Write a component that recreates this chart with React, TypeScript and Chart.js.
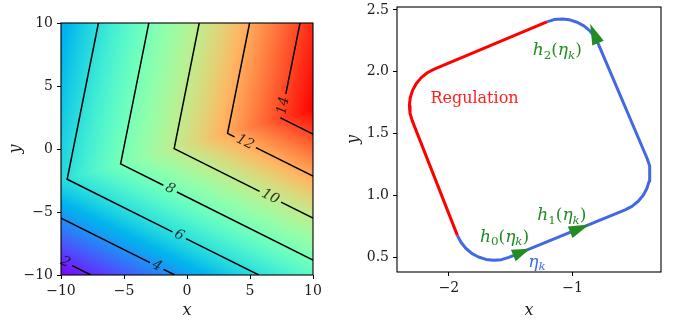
import React, { useEffect, useRef } from 'react';
import { Chart, registerables } from 'chart.js';

Chart.register(...registerables);

const SERIF = '"DejaVu Serif", "Liberation Serif", serif';
const TEXT_COLOR = '#1a1a1a';

// ---------------- Left panel: heat map with contours ----------------
const HEAT_X_LIMITS = [-10, 10];
const HEAT_Y_LIMITS = [-10, 10];
const HEAT_TICKS = [-10, -5, 0, 5, 10];
// the surface is the lower of two planes a*x + b*y + c
const SURFACE_LOWER_PLANE = [0.3, 0.6, 10.29];
const SURFACE_UPPER_PLANE = [0.5, -0.1, 10.515];
const COLOR_LIMITS = [1.29, 15.2];
const CONTOUR_LEVELS = [2, 4, 6, 8, 10, 12, 14];
const CONTOUR_PATHS: number[][][] = [
  [[-10, -8.82], [-7.63, -10]],
  [[-10, -5.48], [-0.97, -10]],
  [[-7.03, 10], [-9.51, -2.4], [5.7, -10]],
  [[-3.03, 10], [-5.27, -1.18], [10, -8.82]],
  [[0.97, 10], [-1.02, 0.03], [10, -5.48]],
  [[4.97, 10], [3.22, 1.24], [10, -2.15]],
  [[8.97, 10], [7.46, 2.45], [10, 1.18]],
];
const CONTOUR_LABEL_POINTS: number[][] = [
  [-9.65, -8.99],
  [-2.4, -9.28],
  [-0.62, -6.84],
  [-1.34, -3.15],
  [6.61, -3.79],
  [4.62, 0.54],
  [7.66, 3.44],
];

// ---------------- Right panel: closed orbit ----------------
const ORBIT_X_LIMITS = [-2.42, -0.286];
const ORBIT_Y_LIMITS = [0.381, 2.524];
const ORBIT_X_TICKS = [-2, -1];
const ORBIT_Y_TICKS = [0.5, 1.0, 1.5, 2.0, 2.5];
const REGULATION_ARC: number[][] = [
  [-1.209, 2.404], [-2.119, 2.021], [-2.175, 1.992], [-2.224, 1.953], [-2.264, 1.905],
  [-2.294, 1.85], [-2.313, 1.79], [-2.32, 1.728], [-2.315, 1.665], [-2.297, 1.605],
  [-1.932, 0.677],
];
const ETA_ARC: number[][] = [
  [-1.932, 0.677], [-1.903, 0.622], [-1.864, 0.573], [-1.816, 0.532], [-1.761, 0.502],
  [-1.701, 0.483], [-1.639, 0.476], [-1.576, 0.481], [-1.516, 0.499],
  [-0.576, 0.883], [-0.521, 0.912], [-0.472, 0.951], [-0.431, 0.999], [-0.401, 1.054],
  [-0.382, 1.114], [-0.375, 1.176], [-0.38, 1.239], [-0.398, 1.299],
  [-0.793, 2.226], [-0.822, 2.282], [-0.861, 2.331], [-0.909, 2.371], [-0.964, 2.401],
  [-1.024, 2.42], [-1.086, 2.427], [-1.149, 2.422], [-1.209, 2.404],
];
// arrow tail (x, y) -> tip (x, y)
const FLOW_ARROWS: number[][] = [
  [-1.48, 0.514, -1.345, 0.569],
  [-1.02, 0.702, -0.866, 0.765],
  [-0.795, 2.232, -0.858, 2.386],
];
const ARROW_HEAD_WIDTH = 0.1;

// annotations (text, anchor = left/baseline in data coordinates)
type Part = [string, string];
const ORBIT_TEXTS: { parts: Part[]; at: number[]; color: string; size: number }[] = [
  { parts: [['Regulation', 'r']], at: [-2.15, 1.745], color: '#ff2020', size: 16 },
  { parts: [['h', 'i'], ['2', 'sub'], ['(', 'r'], ['η', 'i'], ['k', 'subi'], [')', 'r']], at: [-1.323, 2.135], color: '#228b22', size: 17 },
  { parts: [['h', 'i'], ['1', 'sub'], ['(', 'r'], ['η', 'i'], ['k', 'subi'], [')', 'r']], at: [-1.286, 0.802], color: '#228b22', size: 17 },
  { parts: [['h', 'i'], ['0', 'sub'], ['(', 'r'], ['η', 'i'], ['k', 'subi'], [')', 'r']], at: [-1.749, 0.626], color: '#228b22', size: 17 },
  { parts: [['η', 'i'], ['k', 'subi']], at: [-1.359, 0.424], color: '#4169e6', size: 17 },
];

const RED = '#ff0000';
const BLUE = '#4169e6';
const GREEN = '#228b22';

function rainbow(t: number) {
  const v = Math.min(1, Math.max(0, t));
  const r = Math.min(1, Math.abs(2 * v - 0.5));
  const g = Math.max(0, Math.sin(Math.PI * v));
  const b = Math.max(0, Math.cos((Math.PI * v) / 2));
  return [Math.round(r * 255), Math.round(g * 255), Math.round(b * 255)];
}

function surface(x: number, y: number) {
  const a = SURFACE_LOWER_PLANE;
  const b = SURFACE_UPPER_PLANE;
  return Math.min(a[0] * x + a[1] * y + a[2], b[0] * x + b[1] * y + b[2]);
}

function minus(v: number, digits = 0) {
  const s = Math.abs(v).toFixed(digits);
  return v < 0 ? '\u2212' + s : s;
}

function nearestSegment(path: number[][], p: number[]) {
  let best = 0, bestD = Infinity, bestT = 0;
  for (let i = 0; i < path.length - 1; i++) {
    const [x1, y1] = path[i];
    const [x2, y2] = path[i + 1];
    const dx = x2 - x1, dy = y2 - y1;
    const L2 = dx * dx + dy * dy;
    let t = ((p[0] - x1) * dx + (p[1] - y1) * dy) / L2;
    t = Math.max(0, Math.min(1, t));
    const qx = x1 + t * dx, qy = y1 + t * dy;
    const d = (qx - p[0]) ** 2 + (qy - p[1]) ** 2;
    if (d < bestD) { bestD = d; best = i; bestT = t; }
  }
  return { seg: best, t: bestT };
}

function contourData(path: number[][], label: number[], half: number) {
  const { seg, t } = nearestSegment(path, label);
  const [x1, y1] = path[seg];
  const [x2, y2] = path[seg + 1];
  const L = Math.hypot(x2 - x1, y2 - y1);
  const t0 = t - half / L;
  const t1 = t + half / L;
  const out: any[] = [];
  for (let i = 0; i <= seg; i++) out.push({ x: path[i][0], y: path[i][1] });
  if (t0 > 0) out.push({ x: x1 + t0 * (x2 - x1), y: y1 + t0 * (y2 - y1) });
  out.push({ x: NaN, y: NaN });
  if (t1 < 1) out.push({ x: x1 + t1 * (x2 - x1), y: y1 + t1 * (y2 - y1) });
  for (let i = seg + 1; i < path.length; i++) out.push({ x: path[i][0], y: path[i][1] });
  return out;
}

function drawRich(ctx: CanvasRenderingContext2D, x: number, y: number, parts: Part[], size: number, color: string) {
  ctx.save();
  ctx.fillStyle = color;
  ctx.textAlign = 'left';
  ctx.textBaseline = 'alphabetic';
  let cx = x;
  for (const [t, st] of parts) {
    const sub = st === 'sub' || st === 'subi';
    const it = st === 'i' || st === 'subi';
    const s = sub ? size * 0.7 : size;
    ctx.font = `${it ? 'italic ' : ''}${s}px ${SERIF}`;
    ctx.fillText(t, cx, y + (sub ? size * 0.22 : 0));
    cx += ctx.measureText(t).width;
  }
  ctx.restore();
}

const framePlugin = {
  id: 'frame',
  afterDraw(chart: any) {
    const { ctx, chartArea: a } = chart;
    ctx.save();
    ctx.strokeStyle = '#000';
    ctx.lineWidth = 1.1;
    ctx.strokeRect(a.left, a.top, a.right - a.left, a.bottom - a.top);
    ctx.restore();
  },
};

const heatPlugin = {
  id: 'heat',
  beforeDatasetsDraw(chart: any) {
    const { ctx, chartArea: a, scales } = chart;
    const xs = scales.x, ys = scales.y;
    const w = Math.round(a.right - a.left);
    const h = Math.round(a.bottom - a.top);
    const off = document.createElement('canvas');
    off.width = w;
    off.height = h;
    const octx = off.getContext('2d') as CanvasRenderingContext2D;
    const img = octx.createImageData(w, h);
    const [lo, hi] = COLOR_LIMITS;
    for (let j = 0; j < h; j++) {
      const yv = ys.getValueForPixel(a.top + j + 0.5);
      for (let i = 0; i < w; i++) {
        const xv = xs.getValueForPixel(a.left + i + 0.5);
        const [r, g, b] = rainbow((surface(xv, yv) - lo) / (hi - lo));
        const k = (j * w + i) * 4;
        img.data[k] = r;
        img.data[k + 1] = g;
        img.data[k + 2] = b;
        img.data[k + 3] = 255;
      }
    }
    octx.putImageData(img, 0, 0);
    ctx.drawImage(off, a.left, a.top);
  },
};

const contourLabelPlugin = {
  id: 'clabels',
  afterDatasetsDraw(chart: any) {
    const { ctx, scales } = chart;
    const xs = scales.x, ys = scales.y;
    ctx.save();
    ctx.font = `italic 14px ${SERIF}`;
    ctx.fillStyle = 'rgba(15,15,15,0.85)';
    ctx.textAlign = 'center';
    ctx.textBaseline = 'middle';
    CONTOUR_LEVELS.forEach((lvl, i) => {
      const path = CONTOUR_PATHS[i];
      const p = CONTOUR_LABEL_POINTS[i];
      const { seg } = nearestSegment(path, p);
      const dx = xs.getPixelForValue(path[seg + 1][0]) - xs.getPixelForValue(path[seg][0]);
      const dy = ys.getPixelForValue(path[seg + 1][1]) - ys.getPixelForValue(path[seg][1]);
      let ang = Math.atan2(dy, dx);
      if (ang > Math.PI / 2) ang -= Math.PI;
      if (ang < -Math.PI / 2) ang += Math.PI;
      ctx.save();
      ctx.translate(xs.getPixelForValue(p[0]), ys.getPixelForValue(p[1]));
      ctx.rotate(ang);
      ctx.fillText(String(lvl), 0, 0);
      ctx.restore();
    });
    ctx.restore();
  },
};

const orbitOverlayPlugin = {
  id: 'orbitOverlay',
  afterDatasetsDraw(chart: any) {
    const { ctx, scales } = chart;
    const xs = scales.x, ys = scales.y;
    ctx.save();
    ctx.fillStyle = GREEN;
    for (const [x0, y0, x1, y1] of FLOW_ARROWS) {
      const bx = xs.getPixelForValue(x0), by = ys.getPixelForValue(y0);
      const tx = xs.getPixelForValue(x1), ty = ys.getPixelForValue(y1);
      const len = Math.hypot(tx - bx, ty - by);
      const ux = (tx - bx) / len, uy = (ty - by) / len;
      const hw = (xs.getPixelForValue(ARROW_HEAD_WIDTH) - xs.getPixelForValue(0)) / 2;
      ctx.beginPath();
      ctx.moveTo(tx, ty);
      ctx.lineTo(bx - uy * hw, by + ux * hw);
      ctx.lineTo(bx + uy * hw, by - ux * hw);
      ctx.closePath();
      ctx.fill();
    }
    ctx.restore();
    for (const t of ORBIT_TEXTS) {
      drawRich(ctx, xs.getPixelForValue(t.at[0]), ys.getPixelForValue(t.at[1]), t.parts, t.size, t.color);
    }
  },
};

function axisCommon(title: string, isX: boolean, size: number, ticks: number[], digits: number) {
  return {
    type: 'linear',
    afterBuildTicks: (s: any) => {
      s.ticks = ticks.map((v) => ({ value: v }));
    },
    afterFit: (s: any) => {
      if (isX) s.height = size;
      else s.width = size;
      s.paddingLeft = 0;
      s.paddingRight = 0;
      s.paddingTop = 0;
      s.paddingBottom = 0;
    },
    ticks: {
      autoSkip: false,
      maxRotation: 0,
      minRotation: 0,
      padding: 4,
      color: TEXT_COLOR,
      font: { family: SERIF, size: 14 },
      callback: (v: any) => minus(Number(v), digits),
    },
    grid: {
      display: true,
      drawOnChartArea: false,
      drawTicks: true,
      tickLength: 4,
      color: '#000',
      lineWidth: 1,
    },
    border: { display: false },
    title: {
      display: true,
      text: title,
      color: TEXT_COLOR,
      font: { family: SERIF, size: 16, style: 'italic' },
      padding: isX ? { top: 0, bottom: 0 } : { top: 6, bottom: 0 },
    },
  };
}

export default function App() {
  const leftRef = useRef<HTMLCanvasElement>(null);
  const rightRef = useRef<HTMLCanvasElement>(null);

  useEffect(() => {
    const half = (lvl: number) => (lvl >= 10 ? 0.95 : 0.6);
    const left = new Chart(leftRef.current as HTMLCanvasElement, {
      type: 'scatter',
      data: {
        datasets: CONTOUR_LEVELS.map((lvl, i) => ({
          data: contourData(CONTOUR_PATHS[i], CONTOUR_LABEL_POINTS[i], half(lvl)),
          showLine: true,
          borderColor: '#000',
          borderWidth: 1.5,
          pointRadius: 0,
          tension: 0,
          spanGaps: false,
        })),
      } as any,
      options: {
        responsive: false,
        animation: false,
        devicePixelRatio: 1,
        events: [],
        layout: { padding: { left: 0, right: 25, top: 23, bottom: 0 } },
        plugins: { legend: { display: false }, tooltip: { enabled: false } },
        scales: {
          x: { ...axisCommon('x', true, 45, HEAT_TICKS, 0), min: HEAT_X_LIMITS[0], max: HEAT_X_LIMITS[1] },
          y: { ...axisCommon('y', false, 61, HEAT_TICKS, 0), min: HEAT_Y_LIMITS[0], max: HEAT_Y_LIMITS[1] },
        },
      } as any,
      plugins: [heatPlugin, contourLabelPlugin, framePlugin],
    });

    const right = new Chart(rightRef.current as HTMLCanvasElement, {
      type: 'scatter',
      data: {
        datasets: [
          {
            data: REGULATION_ARC.map(([x, y]) => ({ x, y })),
            showLine: true,
            borderColor: RED,
            borderWidth: 3,
            pointRadius: 0,
            tension: 0,
            borderJoinStyle: 'round',
          },
          {
            data: ETA_ARC.map(([x, y]) => ({ x, y })),
            showLine: true,
            borderColor: BLUE,
            borderWidth: 3,
            pointRadius: 0,
            tension: 0,
            borderJoinStyle: 'round',
          },
        ],
      } as any,
      options: {
        responsive: false,
        animation: false,
        devicePixelRatio: 1,
        events: [],
        layout: { padding: { left: 0, right: 15, top: 7, bottom: 0 } },
        plugins: { legend: { display: false }, tooltip: { enabled: false } },
        scales: {
          x: { ...axisCommon('x', true, 48, ORBIT_X_TICKS, 0), min: ORBIT_X_LIMITS[0], max: ORBIT_X_LIMITS[1] },
          y: { ...axisCommon('y', false, 59, ORBIT_Y_TICKS, 1), min: ORBIT_Y_LIMITS[0], max: ORBIT_Y_LIMITS[1] },
        },
      } as any,
      plugins: [orbitOverlayPlugin, framePlugin],
    });

    return () => {
      left.destroy();
      right.destroy();
    };
  }, []);

  return (
    <div style={{ position: 'absolute', left: 0, top: 0, width: 676, height: 320, background: '#fff' }}>
      <canvas ref={leftRef} width={338} height={320} style={{ position: 'absolute', left: 0, top: 0 }} />
      <canvas ref={rightRef} width={338} height={320} style={{ position: 'absolute', left: 338, top: 0 }} />
    </div>
  );
}
